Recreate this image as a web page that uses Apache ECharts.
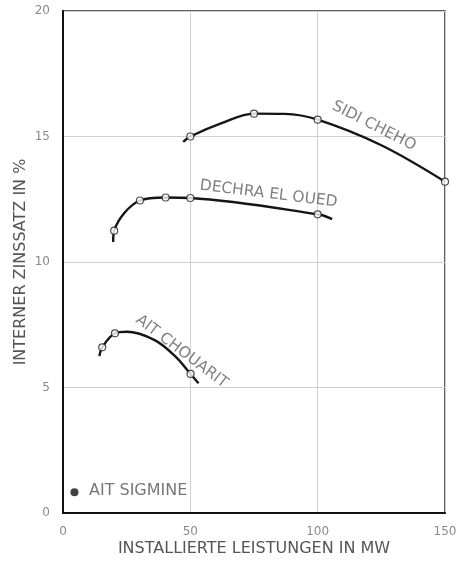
<!DOCTYPE html>
<html>
<head>
<meta charset="utf-8">
<script src="https://cdn.jsdelivr.net/npm/echarts@6/dist/echarts.min.js"></script>
<style>
html,body{margin:0;padding:0;background:#fff;}
#c{width:466px;height:564px;}
</style>
</head>
<body>
<div id="c"></div>
<script>
// ---- data ----
const xTicks = [0, 50, 100, 150];
const yTicks = [0, 5, 10, 15, 20];

const sidiCurve   = [[47.2, 14.79], [50, 15.0], [62.3, 15.53], [75, 15.91], [87, 15.9], [100, 15.67], [125, 14.65], [150, 13.2]];
const sidiMarks   = [[50, 15.0], [75, 15.91], [100, 15.67], [150, 13.2]];

const dechraCurve = [[19.7, 10.8], [20.1, 11.25], [30.2, 12.45], [40.3, 12.57], [50, 12.55], [100, 11.9], [105.7, 11.71]];
const dechraMarks = [[20.1, 11.25], [30.2, 12.45], [40.3, 12.57], [50, 12.55], [100, 11.9]];

const aitChCurve  = [[14.3, 6.25], [15.4, 6.6], [20.4, 7.16], [25, 7.22], [36, 6.89], [44, 6.25], [50.1, 5.54], [53.2, 5.17]];
const aitChMarks  = [[15.4, 6.6], [20.4, 7.16], [50.1, 5.54]];

const sigminePoint = [[4.5, 0.83]];

const names = ['SIDI CHEHO', 'DECHRA EL OUED', 'AIT CHOUARIT', 'AIT SIGMINE'];

// ---- chart ----
const FONT = 'DejaVu Sans';
const chart = echarts.init(document.getElementById('c'), null, {renderer: 'canvas'});

function curve(data) {
  return {type: 'line', data: data, smooth: 0.35, showSymbol: false, symbol: 'none',
    lineStyle: {color: '#151515', width: 2.4}, z: 3, silent: true};
}
function marks(data) {
  return {type: 'scatter', data: data, symbol: 'circle', symbolSize: 7,
    itemStyle: {color: '#fff', borderColor: '#222', borderWidth: 1.2}, z: 4, silent: true};
}
function tag(text, pos, rot) {
  return {type: 'scatter', data: [pos], symbolSize: 0, z: 5, silent: true,
    label: {show: true, position: 'inside', formatter: text, rotate: rot,
      fontFamily: FONT, fontSize: 15.5, color: '#606060', fontWeight: 'normal'}};
}

chart.setOption({
  animation: false,
  backgroundColor: '#fff',
  grid: {left: 63, right: 21, top: 11, bottom: 51, containLabel: false, outerBoundsMode: 'none',
    show: true, borderColor: '#2a2a2a', borderWidth: 1.5, backgroundColor: 'transparent'},
  xAxis: {
    type: 'value', min: 0, max: 150, interval: 50,
    name: 'INSTALLIERTE LEISTUNGEN IN MW', nameLocation: 'middle', nameGap: 28, nameMoveOverlap: false,
    nameTextStyle: {fontFamily: FONT, fontSize: 16, color: '#555'},
    axisLine: {show: true, lineStyle: {color: '#111', width: 2}},
    axisTick: {show: false},
    axisLabel: {margin: 13, fontFamily: FONT, fontSize: 12, color: '#8a8a8a',
      formatter: v => xTicks.includes(v) ? String(v) : ''},
    splitLine: {show: true, lineStyle: {color: '#cfcfcf', width: 1}}
  },
  yAxis: {
    type: 'value', min: 0, max: 20, interval: 5,
    name: 'INTERNER ZINSSATZ IN %', nameLocation: 'middle', nameGap: 34, nameMoveOverlap: false,
    nameTextStyle: {fontFamily: FONT, fontSize: 16, color: '#555'},
    axisLine: {show: true, lineStyle: {color: '#111', width: 2}},
    axisTick: {show: false},
    axisLabel: {margin: 13, fontFamily: FONT, fontSize: 12, color: '#8a8a8a',
      formatter: v => yTicks.includes(v) ? String(v) : ''},
    splitLine: {show: true, lineStyle: {color: '#cfcfcf', width: 1}}
  },
  series: [
    curve(sidiCurve), marks(sidiMarks),
    curve(dechraCurve), marks(dechraMarks),
    curve(aitChCurve), marks(aitChMarks),
    {type: 'scatter', data: sigminePoint, symbol: 'circle', symbolSize: 8,
      itemStyle: {color: '#111'}, z: 4, silent: true},
    tag(names[0], [122.1, 15.42], -27),
    tag(names[1], [80.7, 12.71], -7),
    tag(names[2], [46.6, 6.43], -37),
    {type: 'scatter', data: [[10.2, 0.88]], symbolSize: 0, z: 5, silent: true,
      label: {show: true, position: 'right', distance: 0, formatter: names[3],
        fontFamily: FONT, fontSize: 16, color: '#555'}}
  ]
});
</script>
</body>
</html>
